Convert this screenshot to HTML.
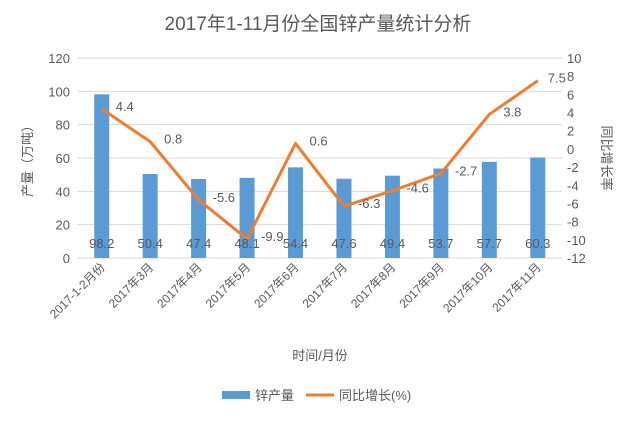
<!DOCTYPE html>
<html><head><meta charset="utf-8"><style>
body{margin:0;background:#fff;}
svg text{font-family:"Liberation Sans","Noto Sans CJK SC",sans-serif;fill:#595959;}
</style></head><body>
<svg id="c" width="636" height="419">
<text x="318" y="30" text-anchor="middle" font-size="19">2017年1-11月份全国锌产量统计分析</text>
<g id="grid"></g><g id="bars"></g><g id="line"></g><g id="labels"></g>
<text transform="translate(32,158) rotate(-90)" text-anchor="middle" font-size="13">产量（万吨）</text>
<text transform="translate(602,158) rotate(90)" text-anchor="middle" font-size="13">同比增长率</text>
<text x="320" y="360" text-anchor="middle" font-size="13">时间/月份</text>
<g>
<rect x="222" y="391" width="28" height="8" fill="#5b9bd5"/>
<text x="255" y="400" font-size="13">锌产量</text>
<line x1="306" y1="395" x2="334" y2="395" stroke="#ed7d31" stroke-width="3"/>
<text x="339" y="400" font-size="13">同比增长(%)</text>
</g>
</svg>
<script>
const categories=["2017-1-2月份","2017年3月","2017年4月","2017年5月","2017年6月","2017年7月","2017年8月","2017年9月","2017年10月","2017年11月"];
const production=[98.2,50.4,47.4,48.1,54.4,47.6,49.4,53.7,57.7,60.3];
const growth=[4.4,0.8,-5.6,-9.9,0.6,-6.3,-4.6,-2.7,3.8,7.5];
const leftTicks=[0,20,40,60,80,100,120];
const rightTicks=[-12,-10,-8,-6,-4,-2,0,2,4,6,8,10];
const NS="http://www.w3.org/2000/svg";
const L=77.5,R=562,T=58,B=258;
const bw=(R-L)/categories.length;
const xC=i=>L+bw*(i+0.5);
const yL=v=>B-(v-0)/(120-0)*(B-T);
const yR=v=>B-(v+12)/22*(B-T);
function mk(tag,attrs,parent,txt){const e=document.createElementNS(NS,tag);for(const k in attrs)e.setAttribute(k,attrs[k]);if(txt!==undefined)e.textContent=txt;document.getElementById(parent).appendChild(e);return e;}
leftTicks.forEach(v=>{
 const g=mk('line',{x1:L,x2:R,y1:yL(v),y2:yL(v),stroke:'#d9d9d9','stroke-width':1},'grid');
 
 
 const t=mk('text',{x:70,y:yL(v)+5,'text-anchor':'end','font-size':13},'grid',String(v));
 
 
});
rightTicks.forEach(v=>{
 const t=mk('text',{x:567,y:yR(v)+5,'font-size':13},'grid',String(v));
 
 
});
production.forEach((v,i)=>{
 const r=mk('rect',{x:xC(i)-7.5,y:yL(v),width:15,height:B-yL(v),fill:'#5b9bd5'},'bars');
 
 
 const t=mk('text',{x:xC(i),y:248,'text-anchor':'middle','font-size':13},'labels',v.toFixed(1));
 
 
 const c=mk('text',{'text-anchor':'end','font-size':12,transform:`translate(${xC(i)+4},268) rotate(-45)`},'labels',categories[i]);
 
 
});
const pts=growth.map((v,i)=>xC(i)+','+yR(v)).join(' ');
const pl=mk('polyline',{points:pts,fill:'none',stroke:'#ed7d31','stroke-width':3,'stroke-linejoin':'round'},'line');


growth.forEach((v,i)=>{
 const last=i===growth.length-1;
 const t=mk('text',{x:last?xC(i)+10:xC(i)+14,y:yR(v)+2,'font-size':13},'labels',v.toFixed(1));
 
 
});
</script>
</body></html>
